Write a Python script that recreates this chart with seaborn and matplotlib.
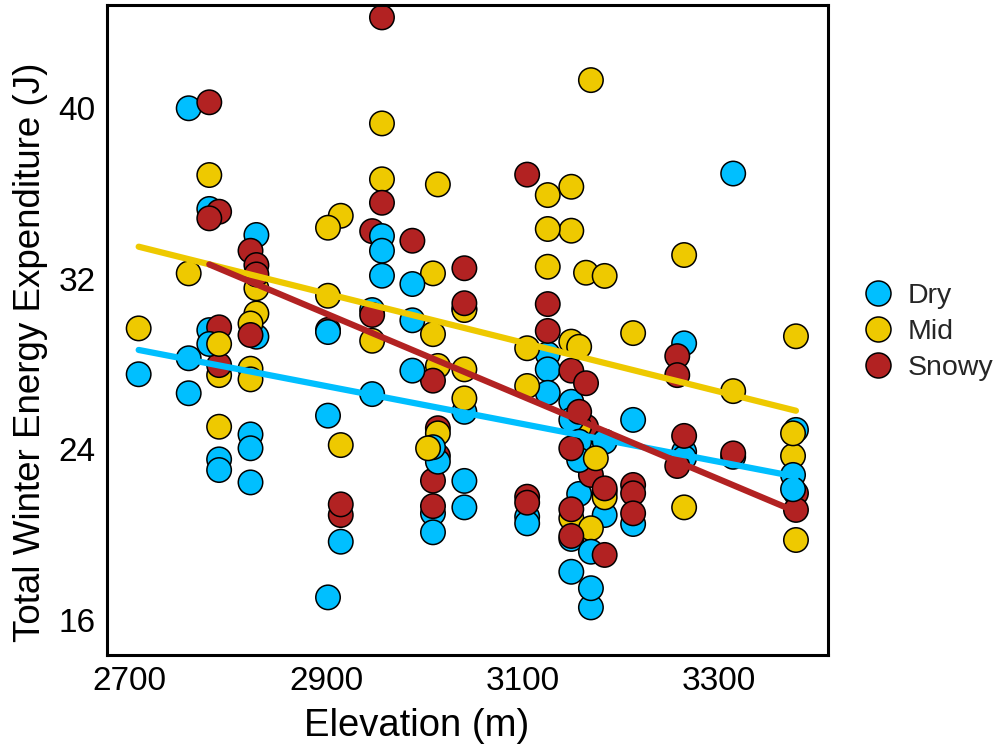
import numpy as np
import pandas as pd
import matplotlib
matplotlib.use("Agg")
import matplotlib.pyplot as plt
import seaborn as sns

# Winter energy expenditure by site elevation, three snow regimes
dry_elev = [2760, 2781, 2829, 2957, 2957, 2957, 2988, 3315, 2947, 2988,
            2781, 2781, 2829, 2902, 2709, 2760, 2760, 3126, 3126, 3126,
            2988, 3041, 2947, 2902, 2823, 2823, 2791, 2791, 2823, 2915,
            2902, 3014, 3009, 3041, 3041, 3009, 3009, 3105, 3105, 3150,
            3150, 3213, 3265, 3265, 3265, 3315, 3184, 3158, 3158, 3158,
            3184, 3213, 3150, 3170, 3150, 3170, 3170, 3379, 3376, 3376]
dry_energy = [39.99, 35.27, 34.05, 34.00, 33.31, 32.14, 31.75, 36.93, 30.53, 30.05,
              29.59, 28.94, 29.28, 29.50, 27.52, 28.27, 26.63, 28.46, 27.75, 26.65,
              27.69, 25.76, 26.59, 25.58, 24.70, 24.05, 23.53, 23.03, 22.45, 19.67,
              17.06, 23.42, 24.10, 22.52, 21.28, 21.00, 20.11, 20.84, 20.53, 26.23,
              25.38, 25.38, 28.97, 23.89, 23.60, 23.65, 24.36, 24.36, 23.50, 21.91,
              20.92, 20.50, 19.80, 19.20, 18.26, 17.49, 16.59, 24.91, 22.80, 22.13]

mid_elev = [3170, 2957, 2781, 2957, 3014, 3126, 3150, 2915, 2902, 3126,
            3150, 3265, 2760, 3009, 3126, 3165, 3184, 2829, 2902, 3041,
            2709, 2829, 2823, 2791, 3009, 3213, 3379, 2947, 3105, 3150,
            3158, 2791, 2823, 2823, 3014, 3041, 3105, 3315, 3041, 2791,
            3158, 3014, 3004, 2915, 3175, 3184, 3184, 3150, 3170, 3265,
            3379, 3376, 3376]
mid_energy = [41.31, 39.28, 36.86, 36.66, 36.42, 35.92, 36.31, 34.95, 34.39, 34.33,
              34.25, 33.11, 32.25, 32.25, 32.56, 32.28, 32.13, 31.55, 31.20, 30.53,
              29.67, 30.37, 29.90, 28.94, 29.40, 29.45, 29.30, 29.09, 28.74, 29.05,
              28.81, 27.48, 27.78, 27.28, 27.91, 27.75, 26.97, 26.73, 26.39, 25.06,
              25.06, 24.75, 24.05, 24.20, 23.58, 22.01, 21.75, 20.77, 20.30, 21.28,
              19.75, 24.75, 23.69]

snowy_elev = [2957, 2781, 3105, 2957, 2791, 2781, 2947, 2988, 2823, 2829,
              2829, 3041, 3041, 3041, 3126, 2947, 2791, 2902, 2823, 3126,
              3258, 3258, 2791, 3009, 3150, 3165, 3158, 3165, 3014, 3014,
              3265, 3315, 3258, 3150, 3170, 3009, 3184, 3213, 3213, 3213,
              2915, 2915, 3009, 3105, 3105, 3150, 3150, 3184, 3379, 3379]
snowy_energy = [44.25, 40.27, 36.88, 35.56, 35.14, 34.83, 34.23, 33.78, 33.31, 32.64,
                32.20, 32.49, 30.85, 30.60, 30.81, 30.30, 29.72, 29.60, 29.36, 29.55,
                28.37, 27.48, 27.95, 27.22, 27.69, 27.10, 25.76, 25.06, 24.99, 23.69,
                24.63, 23.81, 23.22, 24.05, 22.80, 22.53, 22.17, 22.33, 21.94, 21.00,
                21.42, 20.92, 21.34, 21.78, 21.50, 21.19, 19.94, 19.05, 21.94, 21.16]

groups = ["Dry", "Mid", "Snowy"]
palette = {"Dry": "#00BFFF", "Mid": "#EEC900", "Snowy": "#B22222"}

# fitted linear trends: predicted energy at each group's lowest and highest site
trend_low = [28.66, 33.50, 32.67]
trend_high = [22.72, 25.81, 21.08]

df = pd.concat([
    pd.DataFrame({"Elevation": dry_elev, "Energy": dry_energy, "Habitat": "Dry"}),
    pd.DataFrame({"Elevation": mid_elev, "Energy": mid_energy, "Habitat": "Mid"}),
    pd.DataFrame({"Elevation": snowy_elev, "Energy": snowy_energy, "Habitat": "Snowy"}),
], ignore_index=True)
# interleave rows so no single group is always drawn on top
df = df.iloc[np.argsort(np.arange(len(df)) % 7, kind="stable")].reset_index(drop=True)

trend_rows = []
for g, lo, hi in zip(groups, trend_low, trend_high):
    sub = df[df["Habitat"] == g]
    trend_rows.append({"Habitat": g, "Elevation": sub["Elevation"].min(), "Energy": lo})
    trend_rows.append({"Habitat": g, "Elevation": sub["Elevation"].max(), "Energy": hi})
trend = pd.DataFrame(trend_rows)

sns.set_theme(style="white")
plt.rcParams["font.family"] = ["Liberation Sans", "DejaVu Sans"]

fig = plt.figure(figsize=(9.98, 7.5), dpi=100)
ax = fig.add_axes([0.107, 0.1267, 0.723, 0.8666])

sns.scatterplot(data=df, x="Elevation", y="Energy", hue="Habitat",
                hue_order=groups, palette=palette, s=310,
                edgecolor="black", linewidth=1.1, alpha=1, ax=ax, zorder=2)

sns.lineplot(data=trend, x="Elevation", y="Energy", hue="Habitat",
             hue_order=groups, palette=palette, linewidth=4.5,
             legend=False, ax=ax, zorder=3)

ax.set_xlim(2676.5, 3412)
ax.set_ylim(14.36, 44.83)
ax.set_xticks([2700, 2900, 3100, 3300])
ax.set_yticks([16, 24, 32, 40])
ax.tick_params(axis="both", length=0, labelsize=24, pad=8, colors="black")
ax.set_xlabel("Elevation (m)", fontsize=27.5, color="black")
ax.set_ylabel("Total Winter Energy Expenditure (J)", fontsize=26.5, color="black")
ax.xaxis.set_label_coords(0.43, -0.082)
ax.yaxis.set_label_coords(-0.082, 0.466)
for sp in ax.spines.values():
    sp.set_visible(True)
    sp.set_color("black")
    sp.set_linewidth(2.2)

leg = ax.legend(title=None, loc="center left", bbox_to_anchor=(1.0327, 0.497),
                frameon=False, fontsize=20.5, handlelength=1.0,
                handletextpad=0.55, labelspacing=0.36, borderaxespad=0)
for h in leg.legend_handles:
    h.set_markersize(18)
    h.set_markeredgecolor("black")
    h.set_markeredgewidth(1.1)

fig.savefig("out.png", dpi=100)
